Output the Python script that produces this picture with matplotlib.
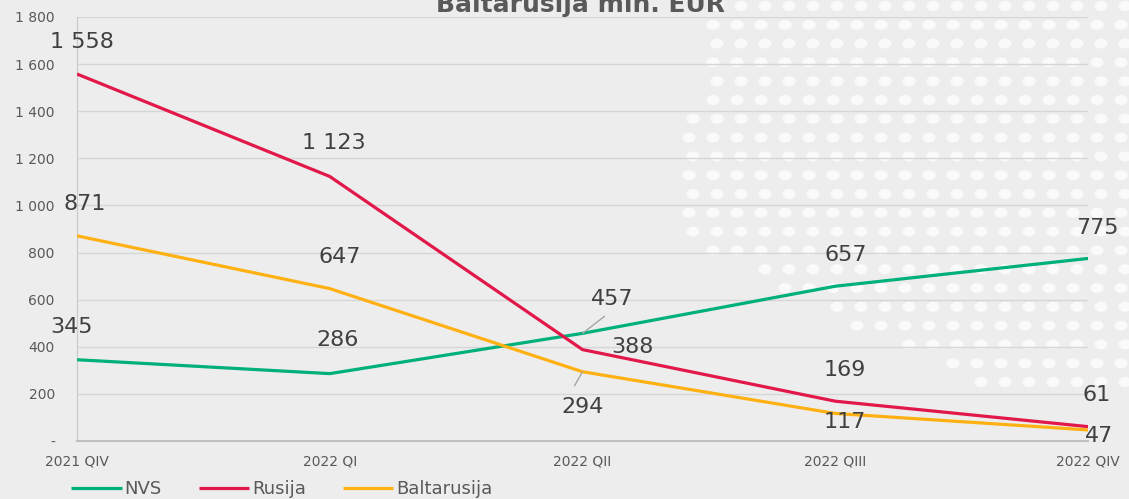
import numpy as np
import matplotlib
matplotlib.use("Agg")
import matplotlib.pyplot as plt
from matplotlib.patches import Ellipse
from matplotlib.ticker import FuncFormatter

# data
quarters = ["2021 QIV", "2022 QI", "2022 QII", "2022 QIII", "2022 QIV"]
nvs = [345, 286, 457, 657, 775]
rusija = [1558, 1123, 388, 169, 61]
baltarusija = [871, 647, 294, 117, 47]

c_nvs = "#00B07B"
c_rus = "#E2184A"
c_blr = "#FFB013"
bg = "#EDEDED"

plt.rcParams['font.family'] = ['DejaVu Sans']

fig = plt.figure(figsize=(11.29, 4.99), dpi=100, facecolor=bg)

# decorative dot pattern in the background (pixel coords)
bga = fig.add_axes([0, 0, 1, 1], zorder=0)
bga.set_xlim(0, 1129)
bga.set_ylim(499, 0)
bga.axis("off")
yy = 6.0
row = 0
while yy < 395:
    if yy <= 230:
        xl = 715 - 0.2 * yy
    else:
        xl = 669 + (yy - 230) * 2.0
    x0 = 1125 - 24 * np.floor((1125 - xl) / 24)
    xx = x0 - (row % 2) * 4
    while xx < 1140:
        bga.add_patch(Ellipse((xx, yy), 13, 10, facecolor="#FAFAFA", edgecolor="none"))
        xx += 24
    yy += 18.8
    row += 1

ax = fig.add_axes([77 / 1129, 1 - 441 / 499, (1088 - 77) / 1129, (441 - 17) / 499], zorder=1)
ax.set_facecolor("none")

x = np.arange(len(quarters))
ax.plot(x, nvs, color=c_nvs, lw=2.3, label="NVS", solid_capstyle="butt", zorder=3)
ax.plot(x, rusija, color=c_rus, lw=2.3, label="Rusija", solid_capstyle="butt", zorder=3)
ax.plot(x, baltarusija, color=c_blr, lw=2.3, label="Baltarusija", solid_capstyle="butt", zorder=3)

ax.set_xlim(0, 4)
ax.set_ylim(0, 1800)
ax.set_yticks(range(0, 1801, 200))
ax.yaxis.set_major_formatter(FuncFormatter(lambda v, p: "-" if v == 0 else f"{int(v):,}".replace(",", " ")))
ax.set_xticks(x)
ax.set_xticklabels(quarters)
ax.grid(axis="y", color="#D6D6D6", lw=1)
ax.set_axisbelow(True)
for s in ["top", "right"]:
    ax.spines[s].set_visible(False)
ax.spines["left"].set_color("#C8C8C8")
ax.spines["bottom"].set_color("#BFBFBF")
ax.spines["bottom"].set_linewidth(1.5)
ax.tick_params(axis="y", length=0, pad=16, labelsize=10, labelcolor="#595959")
ax.tick_params(axis="x", length=0, pad=10, labelsize=10, labelcolor="#595959")

# data labels: offsets in pixels
lab_font = dict(fontsize=16, color="#404040", ha="center", va="center")
off_rus = [(5, 32), (4, 33), (50, 3), (10, 31), (9, 32)]
off_blr = [(8, 32), (10, 32), (0, -35), (10, -9), (11, -6)]
off_nvs = [(-6, 33), (8, 34), (30, 34), (10, 31), (9, 30)]

def fmt(v):
    return f"{v:,}".replace(",", " ")

for vals, offs in [(rusija, off_rus), (baltarusija, off_blr), (nvs, off_nvs)]:
    for i, v in enumerate(vals):
        ax.annotate(fmt(v), (i, v), xytext=offs[i], textcoords="offset pixels", **lab_font,
                    annotation_clip=False, zorder=5)

# leader lines
ax.annotate("", (2, 457), xytext=(22, 17), textcoords="offset pixels",
            arrowprops=dict(arrowstyle="-", color="#A6A6A6", lw=1, shrinkA=0, shrinkB=0))
ax.annotate("", (2, 294), xytext=(-8, -14), textcoords="offset pixels",
            arrowprops=dict(arrowstyle="-", color="#A6A6A6", lw=1, shrinkA=0, shrinkB=0))

fig.text(580 / 1129, 1 - 12 / 499, "Baltarusija mln. EUR", ha="center", va="baseline",
         fontsize=18, fontweight="bold", color="#595959")

leg = fig.legend(loc="center left", bbox_to_anchor=(71 / 1129, 1 - 489 / 499), ncol=3,
                 frameon=False, fontsize=13, handlelength=2.8, handletextpad=0.15,
                 columnspacing=2.05, borderpad=0, borderaxespad=0)
for t in leg.get_texts():
    t.set_color("#595959")

fig.savefig("out.png", dpi=100, facecolor=bg)
